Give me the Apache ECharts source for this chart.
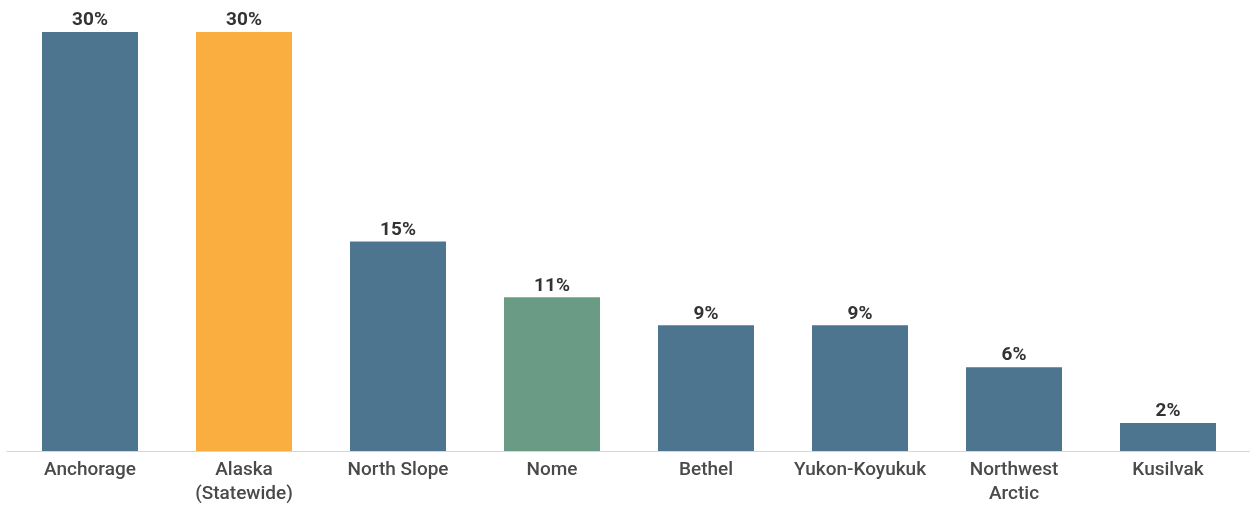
<!DOCTYPE html>
<html>
<head>
<meta charset="utf-8">
<script src="https://cdn.jsdelivr.net/npm/echarts@6/dist/echarts.min.js"></script>
<style>html,body{margin:0;padding:0;background:#fff}#c{width:1250px;height:506px}</style>
</head>
<body>
<div id="c"></div>
<script>
const categories = ["Anchorage", "Alaska\n(Statewide)", "North Slope", "Nome", "Bethel", "Yukon-Koyukuk", "Northwest\nArctic", "Kusilvak"];
const values = [30, 30, 15, 11, 9, 9, 6, 2];
const barColors = ["#4E758F", "#F9AE3F", "#4E758F", "#6A9C85", "#4E758F", "#4E758F", "#4E758F", "#4E758F"];

const chart = echarts.init(document.getElementById('c'));
chart.setOption({
  animation: false,
  grid: [
    { left: 13, right: 5, top: 32, bottom: 55 },
    { left: 7, right: 0, top: 32, bottom: 55 }
  ],
  xAxis: [{
    type: 'category',
    gridIndex: 0,
    data: categories,
    axisLine: { show: false },
    axisTick: { show: false },
    axisLabel: { color: '#4a4a4a', fontFamily: 'Roboto', fontWeight: 500, fontSize: 19, lineHeight: 24, margin: 7, interval: 0 }
  }, {
    type: 'category',
    gridIndex: 1,
    data: categories,
    axisLine: { lineStyle: { color: '#d6d6d6', width: 1 } },
    axisTick: { show: false },
    axisLabel: { show: false }
  }],
  yAxis: [
    { type: 'value', gridIndex: 0, min: 0, max: 30, show: false, splitLine: { show: false } },
    { type: 'value', gridIndex: 1, min: 0, max: 30, show: false, splitLine: { show: false } }
  ],
  series: [{
    type: 'bar',
    xAxisIndex: 0,
    yAxisIndex: 0,
    barWidth: 96,
    z: 3,
    data: values.map((v, i) => ({ value: v, itemStyle: { color: barColors[i] } })),
    label: {
      show: true, position: 'top', distance: 2,
      formatter: p => p.value + '%',
      color: '#333', fontFamily: 'Roboto', fontWeight: 'bold', fontSize: 19
    }
  }]
});
</script>
</body>
</html>
